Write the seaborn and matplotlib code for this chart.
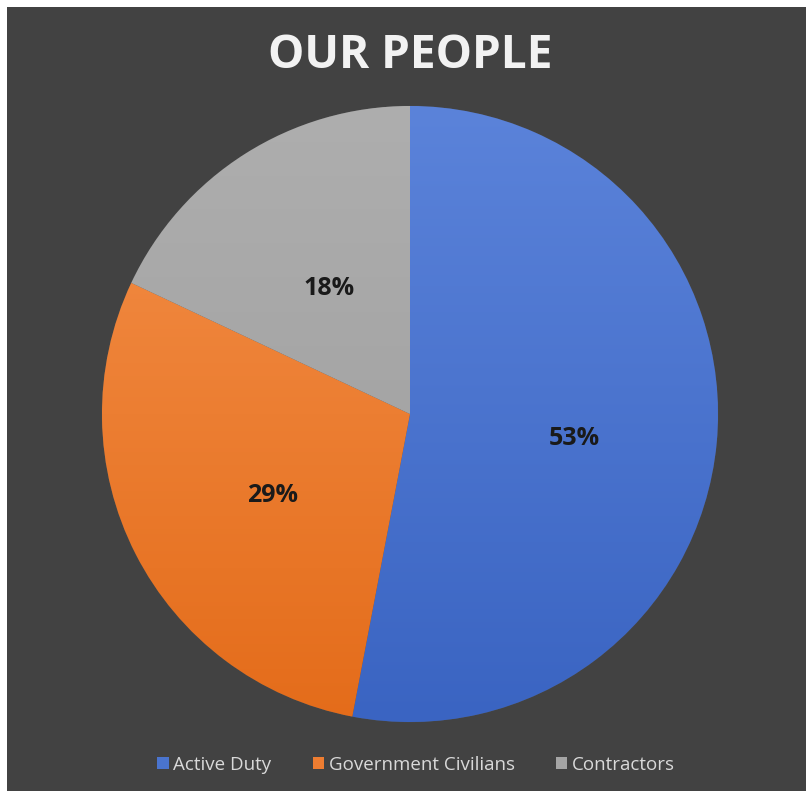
import numpy as np
import matplotlib
matplotlib.use("Agg")
import matplotlib.pyplot as plt
import seaborn as sns
from matplotlib.colors import LinearSegmentedColormap
from matplotlib.patches import Rectangle, Patch

categories = ["Active Duty", "Government Civilians", "Contractors"]
values = [53, 29, 18]
title = "OUR PEOPLE"

sns.set_theme(style="dark")
plt.rcParams["font.family"] = ["Open Sans", "DejaVu Sans"]

base = sns.color_palette(["#4A74CE", "#EE7D31", "#A5A5A5"])
light = ["#5B83DA", "#F4904A", "#AEAEAE"]
dark = ["#3A64C2", "#E46C1A", "#9C9C9C"]

W, H = 806, 791
fig = plt.figure(figsize=(W / 100, H / 100), dpi=100, facecolor="white")
bg = Rectangle((7 / W, 0), 1 - 7 / W, 1 - 7 / H, transform=fig.transFigure,
               facecolor="#424242", edgecolor="none", zorder=-10)
fig.patches.append(bg)

cx, cy, r = 410, 414, 308
ax = fig.add_axes([(cx - r) / W, (H - cy - r) / H, 2 * r / W, 2 * r / H])
ax.set_zorder(5)
ax.set_facecolor("none")

wedges, texts, autotexts = ax.pie(
    values, colors=base, startangle=90, counterclock=False,
    autopct=lambda p: f"{p:.0f}%", pctdistance=0.52,
    wedgeprops=dict(edgecolor="#4a4a4a", linewidth=0.5),
    textprops=dict(fontsize=18, fontweight="bold", color="#1a1a1a"),
)

grad = np.linspace(0, 1, 256).reshape(-1, 1)
for w, lc, dc in zip(wedges, light, dark):
    cmap = LinearSegmentedColormap.from_list("g", [dc, lc])
    im = ax.imshow(grad, cmap=cmap, extent=(-1, 1, -1, 1), origin="lower",
                   aspect="auto", zorder=w.get_zorder() + 0.1)
    im.set_clip_path(w)
for t in autotexts:
    x, y = t.get_position()
    t.set_position((x + 0.016, y - 0.03))
    t.set_zorder(10)
ax.set_xlim(-1, 1)
ax.set_ylim(-1, 1)
ax.set_aspect("equal")
ax.axis("off")

fig.text(410 / W, 1 - 56 / H, title, ha="center", va="center",
         fontsize=33, fontweight="bold", color="#F2F2F2", zorder=6)

handles = [Patch(facecolor=c, edgecolor="none") for c in base]
leg = fig.legend(handles, categories, loc="center", bbox_to_anchor=(416 / W, 1 - 765 / H),
                 ncol=3, frameon=False, fontsize=13.5, handlelength=0.6, handleheight=0.6,
                 handletextpad=0.25, columnspacing=2.2)
leg.set_zorder(6)
for t in leg.get_texts():
    t.set_color("#D9D9D9")

fig.savefig("out.png", dpi=100, facecolor=fig.get_facecolor())
